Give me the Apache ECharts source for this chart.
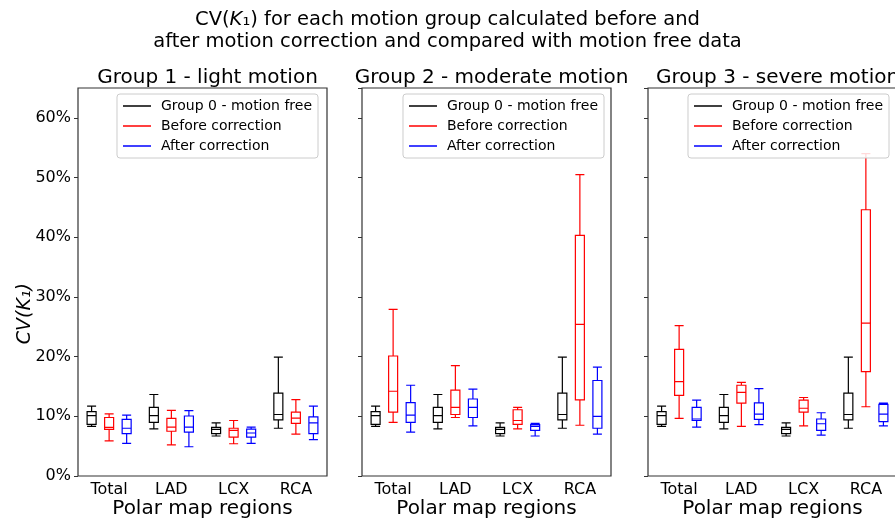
<!DOCTYPE html>
<html>
<head>
<meta charset="utf-8">
<script src="https://cdn.jsdelivr.net/npm/echarts@6/dist/echarts.min.js"></script>
<style>
  html, body { margin: 0; padding: 0; background: #fff; }
  #chart { width: 895px; height: 520px; }
</style>
</head>
<body>
<div id="chart"></div>
<script>
  // box data: [min, Q1, median, Q3, max] in %
  const categories = ['Total', 'LAD', 'LCX', 'RCA'];
  const groupTitles = ['Group 1 - light motion', 'Group 2 - moderate motion', 'Group 3 - severe motion'];
  const seriesNames = ['Group 0 - motion free', 'Before correction', 'After correction'];
  const seriesColors = ['#000000', '#ff0000', '#0000ff'];

  // group 0 (motion free), same in every panel
  const motionFree = [
    [8.3, 8.65, 10.1, 10.8, 11.7],
    [7.9, 9.0, 10.1, 11.5, 13.65],
    [6.7, 7.1, 7.8, 8.15, 8.9],
    [8.0, 9.4, 10.3, 13.9, 19.9]
  ];

  const g1Before = [
    [5.9, 7.8, 8.15, 9.8, 10.4],
    [5.2, 7.5, 8.2, 9.65, 11.0],
    [5.4, 6.5, 7.65, 8.0, 9.3],
    [7.0, 8.8, 9.7, 10.7, 12.8]
  ];
  const g1After = [
    [5.45, 7.1, 8.0, 9.5, 10.2],
    [4.9, 7.35, 8.2, 10.05, 10.95],
    [5.45, 6.5, 7.2, 7.85, 8.2],
    [6.1, 7.1, 8.9, 9.9, 11.7]
  ];

  const g2Before = [
    [9.0, 10.7, 14.2, 20.1, 27.9],
    [9.8, 10.3, 11.5, 14.4, 18.5],
    [7.9, 8.65, 9.3, 11.1, 11.5],
    [8.5, 12.75, 25.4, 40.3, 50.5]
  ];
  const g2After = [
    [7.35, 9.0, 10.2, 12.3, 15.2],
    [8.4, 9.8, 11.5, 12.9, 14.55],
    [6.7, 7.65, 8.3, 8.6, 8.8],
    [7.0, 8.0, 10.0, 16.0, 18.25]
  ];

  const g3Before = [
    [9.65, 13.5, 15.8, 21.2, 25.2],
    [8.3, 12.2, 14.0, 15.2, 15.7],
    [8.4, 10.7, 11.35, 12.7, 13.15],
    [11.6, 17.5, 25.6, 44.6, 54.0]
  ];
  const g3After = [
    [8.2, 9.3, 9.55, 11.5, 12.7],
    [8.6, 9.5, 10.35, 12.25, 14.65],
    [6.85, 7.65, 8.75, 9.55, 10.6],
    [8.4, 9.1, 10.35, 12.0, 12.2]
  ];

  const panelData = [
    [motionFree, g1Before, g1After],
    [motionFree, g2Before, g2After],
    [motionFree, g3Before, g3After]
  ];

  const font = 'DejaVu Sans';
  const gridLefts = [78, 362, 648];
  const legendRights = [577, 291, 6];
  const frameColor = '#333';

  let chart = echarts.init(document.getElementById('chart'));

  let grids = [], xAxes = [], yAxes = [], series = [], legends = [];
  let titles = [{
    text: '{n|CV(}{i|K}{n|₁) for each motion group calculated before and}\n{n|after motion correction and compared with motion free data}',
    left: 'center',
    top: 4,
    textStyle: {
      rich: {
        n: { fontFamily: font, fontSize: 19.5, fontWeight: 'normal', color: '#000', lineHeight: 22 },
        i: { fontFamily: font, fontSize: 19.5, fontWeight: 'normal', color: '#000', fontStyle: 'italic', lineHeight: 22 }
      }
    }
  }];

  panelData.forEach((groups, p) => {
    grids.push({
      left: gridLefts[p], width: 249, top: 88, bottom: 44,
      outerBoundsMode: 'none', containLabel: false,
      show: true, borderColor: frameColor, borderWidth: 1.2, backgroundColor: 'transparent'
    });
    xAxes.push({
      type: 'category', gridIndex: p, data: categories,
      name: 'Polar map regions', nameLocation: 'middle', nameGap: 23, nameMoveOverlap: false,
      nameTextStyle: { fontFamily: font, fontSize: 20, color: '#000' },
      axisLine: { show: false },
      axisTick: { alignWithLabel: true, length: 4, lineStyle: { color: frameColor } },
      axisLabel: { fontFamily: font, fontSize: 16, color: '#000', margin: 6 },
      splitLine: { show: false }
    });
    yAxes.push({
      type: 'value', gridIndex: p, min: 0, max: 65, interval: 10,
      axisLine: { show: false },
      axisTick: { show: true, length: 4, lineStyle: { color: frameColor } },
      axisLabel: {
        show: p === 0, formatter: '{value}%', showMaxLabel: false,
        fontFamily: font, fontSize: 16, color: '#000', margin: 7
      },
      splitLine: { show: false }
    });
    titles.push({
      text: groupTitles[p],
      left: gridLefts[p] + 124.5, textAlign: 'center', top: 63,
      textStyle: { fontFamily: font, fontSize: 20, fontWeight: 'normal', color: '#000' }
    });
    groups.forEach((data, s) => {
      series.push({
        name: seriesNames[s],
        type: 'boxplot',
        xAxisIndex: p, yAxisIndex: p,
        boxWidth: [9, 9],
        itemStyle: { color: 'transparent', borderColor: seriesColors[s], borderWidth: 1.2 },
        emphasis: { disabled: true },
        data: data
      });
    });
    legends.push({
      orient: 'vertical',
      right: legendRights[p], top: 94,
      padding: [5, 6, 5, 6],
      itemWidth: 28, itemHeight: 1.5, itemGap: 6,
      icon: 'rect',
      backgroundColor: 'rgba(255,255,255,0.85)',
      borderColor: '#cccccc', borderWidth: 1, borderRadius: 3,
      textStyle: { fontFamily: font, fontSize: 14, color: '#000', padding: [0, 0, 0, 5] },
      data: seriesNames.map((n, i) => ({ name: n, itemStyle: { color: seriesColors[i], borderWidth: 0 } }))
    });
  });

  let option = {
    animation: false,
    backgroundColor: '#fff',
    title: titles,
    grid: grids,
    xAxis: xAxes,
    yAxis: yAxes,
    legend: legends,
    graphic: [{
      type: 'text',
      left: 16, top: 283,
      rotation: Math.PI / 2,
      style: {
        text: 'CV(K₁)',
        fontFamily: font, fontSize: 19, fontStyle: 'italic', fill: '#000',
        textAlign: 'center', textVerticalAlign: 'middle'
      }
    }],
    series: series
  };
  chart.setOption(option);
</script>
</body>
</html>
